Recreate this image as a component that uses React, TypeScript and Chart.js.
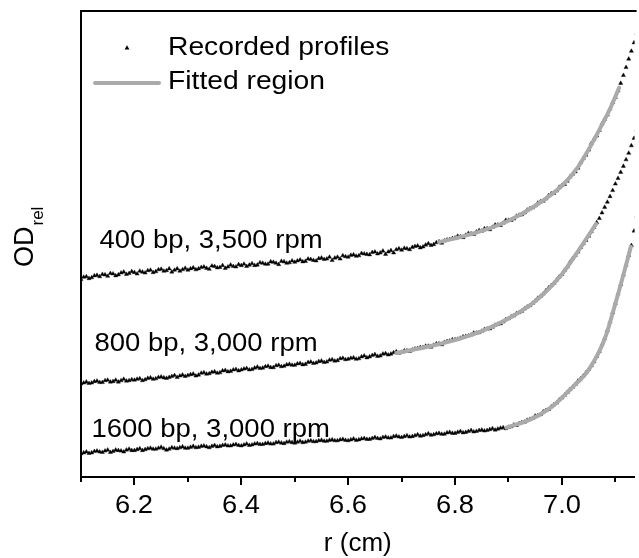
import { useEffect, useRef } from 'react';
import { Chart, registerables } from 'chart.js';

Chart.register(...registerables);

// radial position r (cm) of recorded points
const RADIUS = [
  6.100, 6.105, 6.110, 6.115, 6.120, 6.125, 6.130, 6.135, 6.140, 6.145,
  6.150, 6.155, 6.160, 6.165, 6.170, 6.175, 6.180, 6.185, 6.190, 6.195,
  6.200, 6.205, 6.210, 6.215, 6.220, 6.225, 6.230, 6.235, 6.240, 6.245,
  6.250, 6.255, 6.260, 6.265, 6.270, 6.275, 6.280, 6.285, 6.290, 6.295,
  6.300, 6.305, 6.310, 6.315, 6.320, 6.325, 6.330, 6.335, 6.340, 6.345,
  6.350, 6.355, 6.360, 6.365, 6.370, 6.375, 6.380, 6.385, 6.390, 6.395,
  6.400, 6.405, 6.410, 6.415, 6.420, 6.425, 6.430, 6.435, 6.440, 6.445,
  6.450, 6.455, 6.460, 6.465, 6.470, 6.475, 6.480, 6.485, 6.490, 6.495,
  6.500, 6.505, 6.510, 6.515, 6.520, 6.525, 6.530, 6.535, 6.540, 6.545,
  6.550, 6.555, 6.560, 6.565, 6.570, 6.575, 6.580, 6.585, 6.590, 6.595,
  6.600, 6.605, 6.610, 6.615, 6.620, 6.625, 6.630, 6.635, 6.640, 6.645,
  6.650, 6.655, 6.660, 6.665, 6.670, 6.675, 6.680, 6.685, 6.690, 6.695,
  6.700, 6.705, 6.710, 6.715, 6.720, 6.725, 6.730, 6.735, 6.740, 6.745,
  6.750, 6.755, 6.760, 6.765, 6.770, 6.775, 6.780, 6.785, 6.790, 6.795,
  6.800, 6.805, 6.810, 6.815, 6.820, 6.825, 6.830, 6.835, 6.840, 6.845,
  6.850, 6.855, 6.860, 6.865, 6.870, 6.875, 6.880, 6.885, 6.890, 6.895,
  6.900, 6.905, 6.910, 6.915, 6.920, 6.925, 6.930, 6.935, 6.940, 6.945,
  6.950, 6.955, 6.960, 6.965, 6.970, 6.975, 6.980, 6.985, 6.990, 6.995,
  7.000, 7.005, 7.010, 7.015, 7.020, 7.025, 7.030, 7.035, 7.040, 7.045,
  7.050, 7.055, 7.060, 7.065, 7.070, 7.075, 7.080, 7.085, 7.090, 7.095,
  7.100, 7.105, 7.110, 7.115, 7.120, 7.125, 7.130, 7.135, 7.140,
];

// recorded profiles (OD rel, arbitrary units)
const PROFILE_400 = [
  0.424, 0.429, 0.430, 0.426, 0.428, 0.432, 0.433, 0.430, 0.435, 0.434,
  0.431, 0.437, 0.436, 0.432, 0.434, 0.438, 0.440, 0.435, 0.437, 0.441,
  0.439, 0.436, 0.442, 0.440, 0.438, 0.443, 0.444, 0.439, 0.441, 0.445,
  0.446, 0.442, 0.443, 0.447, 0.440, 0.444, 0.447, 0.442, 0.445, 0.448,
  0.444, 0.447, 0.449, 0.445, 0.447, 0.450, 0.451, 0.448, 0.446, 0.453,
  0.452, 0.449, 0.450, 0.454, 0.448, 0.451, 0.455, 0.452, 0.451, 0.456,
  0.454, 0.457, 0.452, 0.455, 0.458, 0.454, 0.455, 0.460, 0.459, 0.457,
  0.457, 0.462, 0.461, 0.459, 0.456, 0.463, 0.462, 0.459, 0.460, 0.464,
  0.461, 0.464, 0.466, 0.462, 0.463, 0.468, 0.467, 0.465, 0.464, 0.469,
  0.470, 0.467, 0.468, 0.472, 0.465, 0.470, 0.472, 0.468, 0.475, 0.473,
  0.472, 0.476, 0.477, 0.474, 0.475, 0.480, 0.479, 0.478, 0.477, 0.482,
  0.483, 0.479, 0.481, 0.485, 0.478, 0.483, 0.486, 0.481, 0.488, 0.490,
  0.487, 0.491, 0.490, 0.488, 0.493, 0.495, 0.496, 0.492, 0.494, 0.498,
  0.501, 0.497, 0.499, 0.503, 0.505, 0.502, 0.507, 0.509, 0.510, 0.512,
  0.513, 0.517, 0.516, 0.514, 0.519, 0.523, 0.522, 0.521, 0.526, 0.529,
  0.528, 0.533, 0.533, 0.531, 0.536, 0.541, 0.541, 0.540, 0.545, 0.551,
  0.551, 0.551, 0.554, 0.560, 0.562, 0.563, 0.567, 0.573, 0.576, 0.578,
  0.582, 0.588, 0.591, 0.592, 0.597, 0.604, 0.608, 0.609, 0.614, 0.622,
  0.626, 0.628, 0.635, 0.644, 0.650, 0.655, 0.663, 0.675, 0.684, 0.691,
  0.702, 0.716, 0.725, 0.732, 0.744, 0.758, 0.768, 0.777, 0.790, 0.804,
  0.815, 0.829, 0.845, 0.862, 0.879, 0.897, 0.914, 0.932, 0.952,
];

const PROFILE_800 = [
  0.200, 0.202, 0.204, 0.201, 0.202, 0.205, 0.206, 0.203, 0.203, 0.207,
  0.208, 0.204, 0.205, 0.208, 0.204, 0.207, 0.210, 0.206, 0.207, 0.209,
  0.208, 0.210, 0.211, 0.207, 0.209, 0.212, 0.213, 0.210, 0.211, 0.214,
  0.215, 0.213, 0.212, 0.214, 0.216, 0.218, 0.214, 0.217, 0.219, 0.216,
  0.218, 0.220, 0.221, 0.217, 0.219, 0.223, 0.224, 0.221, 0.222, 0.225,
  0.226, 0.223, 0.224, 0.228, 0.229, 0.226, 0.227, 0.230, 0.231, 0.228,
  0.230, 0.232, 0.233, 0.230, 0.231, 0.234, 0.236, 0.233, 0.234, 0.237,
  0.238, 0.235, 0.235, 0.239, 0.240, 0.237, 0.238, 0.241, 0.242, 0.240,
  0.240, 0.243, 0.244, 0.241, 0.242, 0.246, 0.247, 0.244, 0.245, 0.248,
  0.249, 0.246, 0.247, 0.251, 0.252, 0.249, 0.250, 0.254, 0.255, 0.252,
  0.253, 0.255, 0.256, 0.253, 0.254, 0.258, 0.260, 0.256, 0.258, 0.261,
  0.263, 0.259, 0.260, 0.264, 0.265, 0.262, 0.264, 0.267, 0.269, 0.266,
  0.268, 0.271, 0.271, 0.270, 0.273, 0.275, 0.276, 0.278, 0.278, 0.281,
  0.281, 0.279, 0.283, 0.286, 0.286, 0.284, 0.289, 0.291, 0.292, 0.295,
  0.295, 0.296, 0.298, 0.301, 0.302, 0.303, 0.305, 0.309, 0.309, 0.310,
  0.313, 0.317, 0.318, 0.318, 0.322, 0.326, 0.328, 0.329, 0.333, 0.338,
  0.340, 0.344, 0.346, 0.351, 0.353, 0.356, 0.361, 0.365, 0.368, 0.373,
  0.378, 0.384, 0.388, 0.393, 0.400, 0.406, 0.411, 0.416, 0.423, 0.430,
  0.435, 0.444, 0.451, 0.461, 0.469, 0.476, 0.483, 0.493, 0.501, 0.508,
  0.517, 0.527, 0.536, 0.546, 0.555, 0.567, 0.579, 0.590, 0.602, 0.615,
  0.629, 0.641, 0.654, 0.667, 0.681, 0.695, 0.711, 0.727, 0.745,
];

const PROFILE_1600 = [
  0.050, 0.052, 0.054, 0.051, 0.052, 0.055, 0.056, 0.054, 0.053, 0.056,
  0.058, 0.053, 0.055, 0.058, 0.057, 0.056, 0.054, 0.058, 0.060, 0.057,
  0.057, 0.059, 0.061, 0.057, 0.059, 0.061, 0.062, 0.060, 0.060, 0.062,
  0.064, 0.061, 0.058, 0.060, 0.063, 0.062, 0.061, 0.063, 0.065, 0.062,
  0.062, 0.064, 0.066, 0.063, 0.064, 0.066, 0.067, 0.065, 0.063, 0.066,
  0.068, 0.065, 0.066, 0.068, 0.069, 0.067, 0.067, 0.069, 0.070, 0.068,
  0.067, 0.069, 0.071, 0.068, 0.069, 0.071, 0.072, 0.070, 0.070, 0.072,
  0.073, 0.071, 0.071, 0.074, 0.075, 0.073, 0.072, 0.075, 0.076, 0.074,
  0.073, 0.075, 0.077, 0.074, 0.075, 0.077, 0.078, 0.076, 0.076, 0.078,
  0.079, 0.077, 0.077, 0.079, 0.080, 0.078, 0.078, 0.080, 0.081, 0.079,
  0.078, 0.080, 0.082, 0.079, 0.080, 0.082, 0.083, 0.081, 0.081, 0.083,
  0.085, 0.083, 0.082, 0.085, 0.086, 0.084, 0.084, 0.087, 0.088, 0.086,
  0.085, 0.087, 0.089, 0.086, 0.087, 0.089, 0.091, 0.088, 0.089, 0.091,
  0.093, 0.090, 0.091, 0.093, 0.094, 0.092, 0.092, 0.095, 0.096, 0.094,
  0.094, 0.096, 0.098, 0.095, 0.096, 0.098, 0.100, 0.097, 0.098, 0.100,
  0.101, 0.099, 0.100, 0.102, 0.104, 0.101, 0.103, 0.105, 0.106, 0.104,
  0.107, 0.108, 0.112, 0.111, 0.115, 0.117, 0.118, 0.122, 0.124, 0.126,
  0.131, 0.132, 0.134, 0.140, 0.143, 0.145, 0.151, 0.155, 0.159, 0.166,
  0.170, 0.176, 0.182, 0.188, 0.193, 0.199, 0.206, 0.211, 0.217, 0.224,
  0.231, 0.239, 0.248, 0.259, 0.270, 0.284, 0.298, 0.315, 0.333, 0.353,
  0.373, 0.393, 0.413, 0.434, 0.455, 0.476, 0.497, 0.528, 0.560,
];

// fitted regions
const FIT_400_R = [6.77, 6.80, 6.85, 6.90, 6.95, 7.00, 7.03, 7.05, 7.07, 7.09, 7.107];
const FIT_400 = [0.504, 0.512, 0.528, 0.550, 0.582, 0.625, 0.665, 0.703, 0.745, 0.790, 0.835];
const FIT_800_R = [6.69, 6.75, 6.80, 6.85, 6.90, 6.95, 7.00, 7.03, 7.064];
const FIT_800 = [0.266, 0.280, 0.294, 0.313, 0.340, 0.377, 0.435, 0.484, 0.543];
const FIT_1600_R = [6.896, 6.94, 6.98, 7.02, 7.05, 7.08, 7.10, 7.12, 7.129];
const FIT_1600 = [0.106, 0.123, 0.150, 0.193, 0.230, 0.296, 0.372, 0.455, 0.494];

const X_TICKS = [6.1, 6.2, 6.3, 6.4, 6.5, 6.6, 6.7, 6.8, 6.9, 7.0, 7.1];
const X_TICK_LABELS = ['', '6.2', '', '6.4', '', '6.6', '', '6.8', '', '7.0', ''];
const X_TITLE = 'r (cm)';
const Y_TITLE = 'OD';
const Y_TITLE_SUB = 'rel';
const LEGEND_LABELS = ['Recorded profiles', 'Fitted region'];
const SERIES_LABELS = ['400 bp, 3,500 rpm', '800 bp, 3,000 rpm', '1600 bp, 3,000 rpm'];
// label anchors (left, baseline) in data units
const SERIES_LABEL_R = [6.1344, 6.1251, 6.1195];
const SERIES_LABEL_OD = [0.4914, 0.2704, 0.0858];

const FONT = '"Liberation Sans", Arial, Helvetica, sans-serif';
const FIT_COLOR = '#aaaaaa';

export default function App() {
  const ref = useRef<HTMLCanvasElement>(null);

  useEffect(() => {
    const canvas = ref.current;
    if (!canvas) return;

    const decor = {
      id: 'decor',
      afterDraw(chart: any) {
        const { ctx, chartArea: ca, scales } = chart;
        const xs = scales.x;
        const ys = scales.y;
        ctx.save();
        ctx.strokeStyle = '#000';
        ctx.fillStyle = '#000';
        ctx.lineWidth = 2;
        // top frame line
        ctx.beginPath();
        ctx.moveTo(ca.left - 1, ca.top);
        ctx.lineTo(ca.right + 2, ca.top);
        ctx.stroke();
        // x tick marks (major longer) and labels
        ctx.textAlign = 'center';
        ctx.textBaseline = 'middle';
        ctx.font = `26px ${FONT}`;
        X_TICKS.forEach((v, i) => {
          const px = Math.round(xs.getPixelForValue(v));
          const len = X_TICK_LABELS[i] ? 8 : 5;
          ctx.beginPath();
          ctx.moveTo(px, ca.bottom);
          ctx.lineTo(px, ca.bottom + len);
          ctx.stroke();
          if (X_TICK_LABELS[i]) {
            ctx.save();
            ctx.translate(px, ca.bottom + 29);
            ctx.scale(1.05, 1);
            ctx.fillText(X_TICK_LABELS[i], 0, 0);
            ctx.restore();
          }
        });
        // x title
        ctx.fillText(X_TITLE, (ca.left + ca.right) / 2, ca.bottom + 67);

        // legend
        const tx = 127, ty = 48, r = 2.8;
        ctx.beginPath();
        ctx.moveTo(tx, ty - r);
        ctx.lineTo(tx + r * 0.866, ty + r * 0.5);
        ctx.lineTo(tx - r * 0.866, ty + r * 0.5);
        ctx.closePath();
        ctx.fill();
        ctx.strokeStyle = FIT_COLOR;
        ctx.lineWidth = 4;
        ctx.lineCap = 'round';
        ctx.beginPath();
        ctx.moveTo(95, 83);
        ctx.lineTo(159, 83);
        ctx.stroke();

        ctx.textAlign = 'left';
        ctx.textBaseline = 'alphabetic';
        ctx.font = `25px ${FONT}`;
        const legY = [55, 89];
        LEGEND_LABELS.forEach((t, i) => {
          ctx.save();
          ctx.translate(168, legY[i]);
          ctx.scale(1.13, 1);
          ctx.fillText(t, 0, 0);
          ctx.restore();
        });

        // series annotations
        SERIES_LABELS.forEach((t, i) => {
          const px = xs.getPixelForValue(SERIES_LABEL_R[i]);
          const py = ys.getPixelForValue(SERIES_LABEL_OD[i]);
          ctx.save();
          ctx.translate(px, py);
          ctx.scale(1.1, 1);
          ctx.fillText(t, 0, 0);
          ctx.restore();
        });

        // y title with subscript
        ctx.save();
        ctx.translate(33, 267);
        ctx.rotate(-Math.PI / 2);
        ctx.font = `27px ${FONT}`;
        ctx.fillText(Y_TITLE, 0, 0);
        const w = ctx.measureText(Y_TITLE).width;
        ctx.font = `17px ${FONT}`;
        ctx.fillText(Y_TITLE_SUB, w + 1, 10);
        ctx.restore();

        ctx.restore();
      },
    };

    const profiles = [PROFILE_400, PROFILE_800, PROFILE_1600];
    const fits = [
      [FIT_400_R, FIT_400],
      [FIT_800_R, FIT_800],
      [FIT_1600_R, FIT_1600],
    ];

    const chart = new Chart(canvas, {
      type: 'scatter',
      data: {
        datasets: [
          ...profiles.map((p, k) => ({
            label: SERIES_LABELS[k],
            data: RADIUS.map((rv, i) => ({ x: rv, y: p[i] })),
            showLine: false,
            pointStyle: 'triangle' as const,
            pointRadius: 2.4,
            pointBackgroundColor: '#000',
            pointBorderColor: '#000',
            pointBorderWidth: 0.4,
            order: 1,
          })),
          ...fits.map(([fr, fy], k) => ({
            label: SERIES_LABELS[k] + ' fit',
            data: fr.map((rv, i) => ({ x: rv, y: fy[i] })),
            showLine: true,
            pointRadius: 0,
            borderColor: FIT_COLOR,
            borderWidth: 4,
            borderCapStyle: 'round' as const,
            cubicInterpolationMode: 'monotone' as const,
            fill: false,
            order: 0,
          })),
        ],
      },
      options: {
        animation: false,
        responsive: false,
        layout: { padding: { left: 81, top: 11, right: 0, bottom: 81 } },
        plugins: {
          legend: { display: false },
          tooltip: { enabled: false },
        },
        scales: {
          x: {
            type: 'linear',
            min: 6.1,
            max: 7.136,
            afterBuildTicks: (s: any) => {
              s.ticks = X_TICKS.map((v) => ({ value: v }));
            },
            ticks: { display: false },
            grid: { display: false, drawTicks: false },
            border: { display: true, color: '#000', width: 2 },
          },
          y: {
            type: 'linear',
            min: 0,
            max: 1,
            ticks: { display: false },
            grid: { display: false, drawTicks: false },
            border: { display: true, color: '#000', width: 2 },
          },
        },
      },
      plugins: [decor],
    });

    return () => chart.destroy();
  }, []);

  return (
    <div style={{ position: 'fixed', left: 0, top: 0, width: 639, height: 558, background: '#fff' }}>
      <canvas ref={ref} width={639} height={558} style={{ display: 'block' }} />
    </div>
  );
}
